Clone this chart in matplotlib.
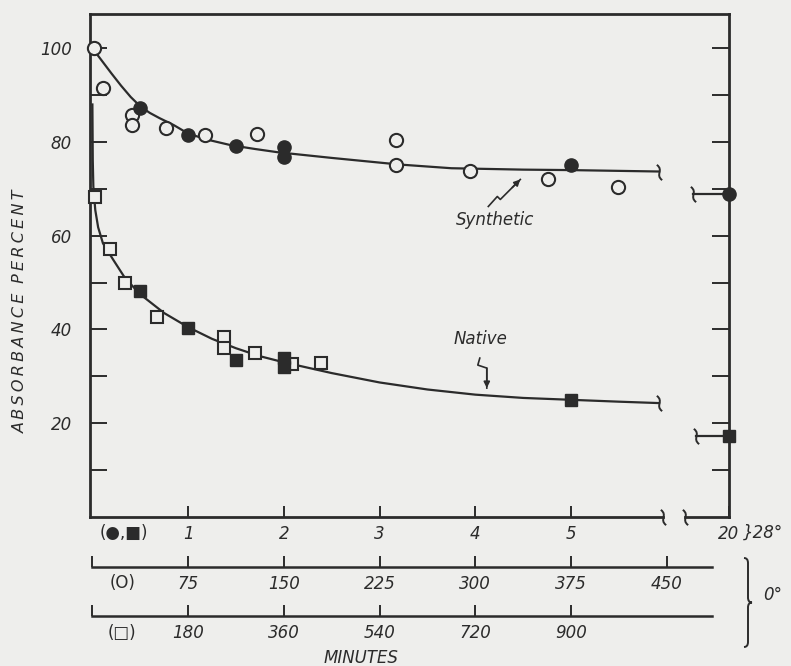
import matplotlib
matplotlib.use("Agg")
import matplotlib.pyplot as plt
import matplotlib.transforms as mtransforms
from matplotlib.path import Path
from matplotlib.patches import PathPatch

INK = "#2b2b2b"
PAPER = "#eeeeec"

# minutes per unit of the main (28 deg) time axis for the two 0 deg runs
CIRCLE_0_SCALE = 75.0
SQUARE_0_SCALE = 180.0

# synthetic, 28 deg (filled circles), minutes / absorbance %
SYN_28_MIN = [0.5, 1.0, 1.5, 2.0, 2.0, 5.0]
SYN_28_ABS = [87.3, 81.4, 79.1, 78.9, 76.7, 75.0]
SYN_28_AT_20 = 68.8

# synthetic, 0 deg (open circles)
SYN_0_MIN = [1, 8, 31, 31, 58, 88, 129, 238, 238, 296, 357, 412]
SYN_0_ABS = [100.0, 91.5, 85.7, 83.6, 82.9, 81.4, 81.8, 80.4, 75.0, 73.8, 72.2, 70.3]

# native, 28 deg (filled squares)
NAT_28_MIN = [0.5, 1.0, 1.5, 2.0, 2.0, 5.0]
NAT_28_ABS = [48.3, 40.3, 33.5, 34.0, 32.1, 25.0]
NAT_28_AT_20 = 17.2

# native, 0 deg (open squares)
NAT_0_MIN = [4, 34, 61, 122, 248, 248, 306, 376, 430]
NAT_0_ABS = [68.2, 57.1, 49.9, 42.6, 38.5, 36.0, 35.0, 32.6, 32.8]

# hand drawn curves (28 deg minutes)
SYN_CURVE_T = [0, 0.1, 0.2, 0.3, 0.4, 0.5, 0.6, 0.7, 0.85, 1.0, 1.2, 1.45,
               1.7, 1.94, 2.5, 3.2, 3.75, 4.5, 5.0, 5.92]
SYN_CURVE_A = [100, 97.3, 94.6, 92.0, 89.6, 87.6, 86.2, 85.1, 83.6, 81.8, 80.5, 79.3,
               78.5, 77.8, 76.6, 75.2, 74.4, 74.1, 74.0, 73.7]
NAT_CURVE_T = [0, 0.004, 0.01, 0.03, 0.06, 0.11, 0.22, 0.34, 0.5, 0.75, 1.0, 1.25,
               1.5, 1.75, 2.0, 2.5, 3.0, 3.5, 4.0, 4.5, 5.0, 5.5, 5.92]
NAT_CURVE_A = [88, 76, 70.5, 65.5, 61.8, 58.4, 54.8, 51.0, 47.5, 43.5, 40.5, 38.0,
               36.0, 34.3, 33.0, 30.7, 28.7, 27.2, 26.1, 25.4, 25.0, 24.6, 24.3]

MAIN_TICKS = [1, 2, 3, 4, 5]
CIRCLE_TICKS = [0, 75, 150, 225, 300, 375, 450]
SQUARE_TICKS = [0, 180, 360, 540, 720, 900]

X_LEFT, X_RIGHT = -0.025, 6.65   # right spine stands for 20 minutes
X_CUT_L, X_CUT_R = 5.96, 6.19

BREAK = Path([(0.35, -1.0), (-0.6, -0.3), (0.6, 0.3), (-0.35, 1.0)],
             [Path.MOVETO, Path.CURVE4, Path.CURVE4, Path.CURVE4])

plt.rcParams["font.family"] = ["DejaVu Sans"]

fig = plt.figure(figsize=(7.91, 6.66), dpi=100, facecolor=PAPER)
ax = fig.add_axes([90 / 791, 1 - 517 / 666, 639 / 791, 503 / 666], facecolor=PAPER)


def brk(x, y):
    ax.plot([x], [y], marker=BREAK, ms=11, mew=1.4, mfc="none", mec=INK,
            ls="none", clip_on=False, zorder=5)


def bolt(tip, pts):
    tr = fig.dpi_scale_trans + mtransforms.ScaledTranslation(tip[0], tip[1], ax.transData)
    ax.plot([p[0] for p in pts], [p[1] for p in pts], transform=tr, color=INK, lw=1.2)
    ax.annotate("", xy=pts[-1], xytext=pts[-2], xycoords=tr, textcoords=tr,
                arrowprops=dict(arrowstyle="-|>", color=INK, lw=1.2,
                                mutation_scale=9, shrinkA=0, shrinkB=0))


# curves
ax.plot(SYN_CURVE_T, SYN_CURVE_A, color=INK, lw=1.6, zorder=2)
ax.plot(NAT_CURVE_T, NAT_CURVE_A, color=INK, lw=1.6, zorder=2)
brk(SYN_CURVE_T[-1], SYN_CURVE_A[-1])
brk(NAT_CURVE_T[-1], NAT_CURVE_A[-1])

# values at 20 minutes, beyond the break
ax.plot([6.27, X_RIGHT], [SYN_28_AT_20] * 2, color=INK, lw=1.6, clip_on=False)
ax.plot([6.31, X_RIGHT], [NAT_28_AT_20] * 2, color=INK, lw=1.6, clip_on=False)
brk(6.27, SYN_28_AT_20)
brk(6.31, NAT_28_AT_20)

# points
ax.plot([t / CIRCLE_0_SCALE for t in SYN_0_MIN], SYN_0_ABS, "o", ms=9.5, mfc=PAPER,
        mec=INK, mew=1.5, clip_on=False, zorder=3)
ax.plot(SYN_28_MIN + [X_RIGHT], SYN_28_ABS + [SYN_28_AT_20], "o", ms=9.5, mfc=INK,
        mec=INK, mew=1.0, clip_on=False, zorder=4)
ax.plot([t / SQUARE_0_SCALE for t in NAT_0_MIN], NAT_0_ABS, "s", ms=8.5, mfc=PAPER,
        mec=INK, mew=1.5, clip_on=False, zorder=3)
ax.plot(NAT_28_MIN + [X_RIGHT], NAT_28_ABS + [NAT_28_AT_20], "s", ms=8.5, mfc=INK,
        mec=INK, mew=1.0, clip_on=False, zorder=4)

# labels with arrows
ax.text(4.21, 63.3, "Synthetic", ha="center", va="center", fontsize=12,
        style="italic", color=INK)
bolt((4.47, 72.0), [(-0.32, -0.27), (-0.23, -0.17), (-0.20, -0.20), (-0.08, -0.08), (0, 0)])
ax.text(4.05, 37.9, "Native", ha="center", va="center", fontsize=12,
        style="italic", color=INK)
bolt((4.12, 27.5), [(-0.07, 0.30), (-0.09, 0.23), (0.0, 0.20), (0.0, 0.0)])

# broken bottom axis
ax.spines["bottom"].set_visible(False)
for s in ["left", "right", "top"]:
    ax.spines[s].set_linewidth(2.0)
    ax.spines[s].set_color(INK)
ax.plot([X_LEFT, X_CUT_L], [0, 0], color=INK, lw=2.0, clip_on=False)
ax.plot([X_CUT_R, X_RIGHT], [0, 0], color=INK, lw=2.0, clip_on=False)
brk(X_CUT_L, 0)
brk(X_CUT_R, 0)

ax.set_xticks(MAIN_TICKS + [X_RIGHT], [str(t) for t in MAIN_TICKS] + ["20"])
ax.tick_params(axis="x", direction="in", length=8, width=1.4, pad=6, colors=INK,
               labelsize=12)
for lbl in ax.get_xticklabels():
    lbl.set_fontstyle("italic")

ax.set_yticks(range(10, 101, 10),
              [str(v) if v % 20 == 0 else "" for v in range(10, 101, 10)])
ax.tick_params(axis="y", direction="in", length=12, width=1.4, pad=13, colors=INK,
               labelsize=12, right=True)
for lbl in ax.get_yticklabels():
    lbl.set_fontstyle("italic")
ylab = "\u2009".join("ABSORBANCE") + "\u2009\u2009\u2009" + "\u2009".join("PERCENT")
ax.set_ylabel(ylab, fontsize=11.5, style="italic", color=INK)
ax.yaxis.set_label_coords(-0.097, 0.41)

# 0 deg time scales
for loc, scale, ticks in [(-0.0994, CIRCLE_0_SCALE, CIRCLE_TICKS),
                          (-0.1968, SQUARE_0_SCALE, SQUARE_TICKS)]:
    sec = ax.secondary_xaxis(loc, functions=(lambda x, s=scale: x * s,
                                             lambda m, s=scale: m / s))
    sec.set_xticks(ticks, [""] + [str(t) for t in ticks[1:]])
    sec.tick_params(direction="in", length=8, width=1.4, pad=6, colors=INK,
                    labelsize=12)
    for lbl in sec.get_xticklabels():
        lbl.set_fontstyle("italic")
    sec.spines["bottom"].set_linewidth(1.8)
    sec.spines["bottom"].set_color(INK)
    sec.spines["bottom"].set_bounds(0, 6.47 * scale)

xt = ax.get_xaxis_transform()
ax.text(0.33, -0.032, "(\u25cf,\u25a0)", transform=xt, ha="center", va="center",
        fontsize=12, color=INK)
ax.text(0.31, -0.131, "(O)", transform=xt, ha="center", va="center", fontsize=12,
        color=INK)
ax.text(0.31, -0.231, "(\u25a1)", transform=xt, ha="center", va="center",
        fontsize=12, color=INK)
ax.text(2.81, -0.280, "MINUTES", transform=xt, ha="center", va="center",
        fontsize=12, style="italic", color=INK)
ax.text(1.022, -0.032, "}28°", transform=ax.transAxes, ha="left", va="center",
        fontsize=12, style="italic", color=INK)
ax.text(1.069, -0.155, "0°", transform=ax.transAxes, ha="center", va="center",
        fontsize=12, style="italic", color=INK)

# brace for the two 0 deg scales (figure inches)
x0, w, ytop, ybot = 7.44, 0.08, 1.08, 0.19
ym = (ytop + ybot) / 2
xm = x0 + w / 2
brace = Path([(x0, ytop), (xm, ytop), (xm, ytop - 0.05),
              (xm, ym + 0.05),
              (xm, ym), (x0 + w, ym),
              (xm, ym), (xm, ym - 0.05),
              (xm, ybot + 0.05),
              (xm, ybot), (x0, ybot)],
             [Path.MOVETO, Path.CURVE3, Path.CURVE3, Path.LINETO,
              Path.CURVE3, Path.CURVE3, Path.CURVE3, Path.CURVE3,
              Path.LINETO, Path.CURVE3, Path.CURVE3])
fig.patches.append(PathPatch(brace, transform=fig.dpi_scale_trans, fill=False,
                             ec=INK, lw=1.4))

ax.set_xlim(X_LEFT, X_RIGHT)
ax.set_ylim(0, 107.3)

fig.savefig("out.png", dpi=100, facecolor=PAPER)
